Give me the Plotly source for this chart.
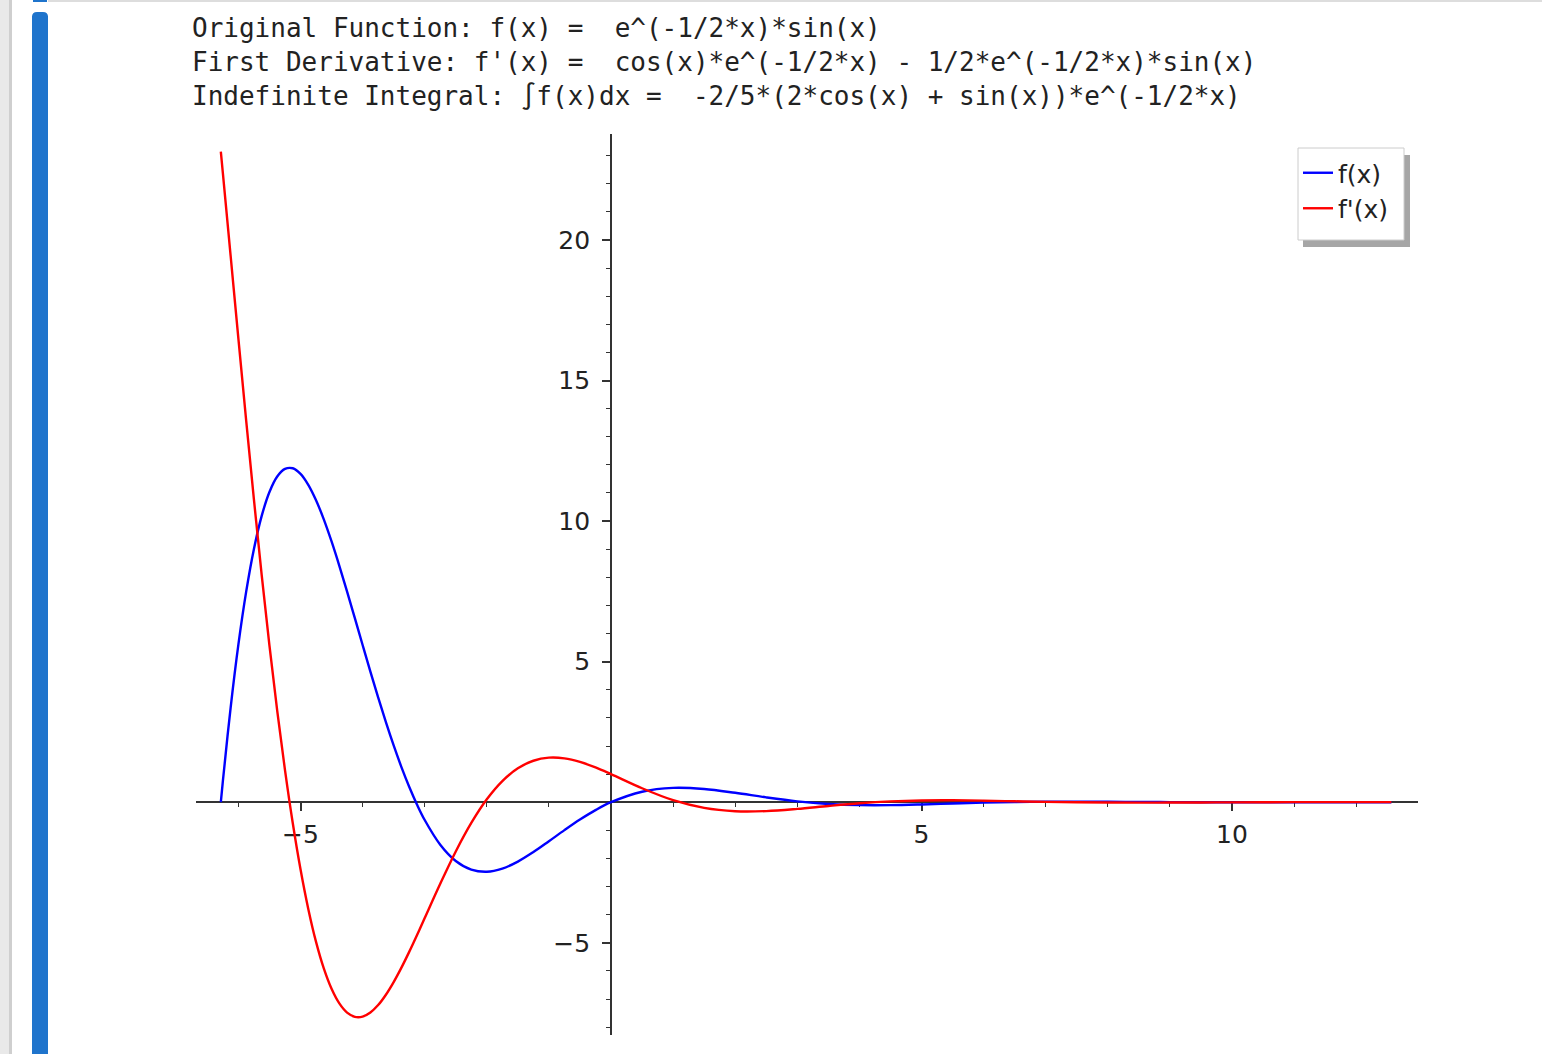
import plotly.graph_objects as go

# ---- data ----
x_vals = [-6.2832, -6.25, -6.125, -6.0, -5.875, -5.75, -5.625, -5.5, -5.375, -5.25,
          -5.125, -5.0, -4.875, -4.75, -4.625, -4.5, -4.375, -4.25, -4.125, -4.0,
          -3.875, -3.75, -3.625, -3.5, -3.375, -3.25, -3.125, -3.0,
          -2.75, -2.5, -2.25, -2.0, -1.75,
          -1.5, -1.25, -1.0, -0.75, -0.5, -0.25, 0.0,
          0.5, 1.0, 1.5, 2.0, 2.5, 3.0, 3.5, 4.0, 4.5, 5.0,
          5.5, 6.0, 6.5, 7.0, 7.5, 8.0, 8.5, 9.0, 9.5, 10.0,
          10.5, 11.0, 11.5, 12.0, 12.5, 12.5664]
f_vals = [0.0, 0.756, 3.368, 5.612, 7.490, 9.010, 10.186, 11.036, 11.586, 11.857,
          11.880, 11.682, 11.293, 10.744, 10.061, 9.275, 8.411, 7.494, 6.547, 5.592,
          4.647, 3.727, 2.847, 2.019, 1.250, 0.550, -0.079, -0.633,
          -1.510, -2.089, -2.397, -2.472, -2.361,
          -2.112, -1.773, -1.387, -0.992, -0.616, -0.280, 0.0,
          0.373, 0.510, 0.471, 0.335, 0.171, 0.031, -0.061, -0.102, -0.103, -0.079,
          -0.045, -0.014, 0.008, 0.020, 0.022, 0.018, 0.011, 0.005, -0.001, -0.004,
          -0.005, -0.004, -0.003, -0.001, 0.000, 0.0]
df_vals = [23.141, 22.37, 19.430, 16.479, 13.574, 10.760, 8.080, 5.568, 3.247, 1.142,
           -0.740, -2.385, -3.794, -4.968, -5.912, -6.637, -7.156, -7.482, -7.633, -7.626,
           -7.480, -7.215, -6.847, -6.398, -5.884, -5.323, -4.730, -4.121,
           -2.901, -1.752, -0.737, 0.105, 0.753,
           1.206, 1.476, 1.585, 1.561, 1.435, 1.238, 1.0,
           0.497, 0.073, -0.202, -0.320, -0.315, -0.237, -0.132, -0.037, 0.029, 0.063,
           0.068, 0.055, 0.034, 0.013, -0.003, -0.012, -0.014, -0.012, -0.008, -0.004,
           0.000, 0.002, 0.003, 0.003, 0.002, 0.002]

x_tickvals = [-5, 5, 10]
x_ticktext = ["\u22125", "5", "10"]
y_tickvals = [-5, 5, 10, 15, 20]
y_ticktext = ["\u22125", "5", "10", "15", "20"]
x_minor = [v for v in range(-6, 14) if v not in x_tickvals and v != 0]
y_minor = [v for v in range(-8, 24) if v not in y_tickvals and v != 0]

header_lines = [
    "Original Function: f(x) =  e^(-1/2*x)*sin(x)",
    "First Derivative: f'(x) =  cos(x)*e^(-1/2*x) - 1/2*e^(-1/2*x)*sin(x)",
    "Indefinite Integral: \u222bf(x)dx =  -2/5*(2*cos(x) + sin(x))*e^(-1/2*x)",
]
series_names = ["f(x)", "f'(x)"]

# ---- layout helpers (pixel -> paper) ----
W, H = 1542, 1054
def px(x):
    return x / W
def py(y):
    return 1 - y / H

X_RANGE = [-6.683, 12.995]
Y_RANGE = [-8.28, 23.77]

fig = go.Figure()
fig.add_trace(go.Scatter(x=x_vals, y=f_vals, mode="lines", name=series_names[0],
                         line=dict(color="#0000ff", width=2.4, shape="spline")))
fig.add_trace(go.Scatter(x=x_vals, y=df_vals, mode="lines", name=series_names[1],
                         line=dict(color="#ff0000", width=2.4, shape="spline")))

axis_common = dict(
    showline=True, linecolor="#333333", linewidth=1.8,
    ticks="outside", ticklen=8, tickwidth=1.6, tickcolor="#333333",
    showgrid=False, zeroline=False, layer="below traces",
    tickfont=dict(family="DejaVu Sans", size=25, color="#222222"),
    tickmode="array",
)

fig.update_layout(
    width=W, height=H,
    margin=dict(l=0, r=0, t=0, b=0),
    paper_bgcolor="white", plot_bgcolor="rgba(0,0,0,0)",
    showlegend=True,
    xaxis=dict(axis_common, domain=[px(196), px(1418)], range=X_RANGE,
               anchor="free", position=py(802.2),
               tickvals=x_tickvals, ticktext=x_ticktext, ticklabelstandoff=2,
               minor=dict(tickmode="array", tickvals=x_minor, ticks="outside",
                          ticklen=4, tickwidth=1.3, tickcolor="#333333", showgrid=False)),
    yaxis=dict(axis_common, domain=[py(1035), py(134)], range=Y_RANGE,
               anchor="free", position=px(611),
               tickvals=y_tickvals, ticktext=y_ticktext, ticklabelstandoff=7,
               minor=dict(tickmode="array", tickvals=y_minor, ticks="outside",
                          ticklen=4, tickwidth=1.3, tickcolor="#333333", showgrid=False)),
    legend=dict(x=px(1298), y=py(150), xanchor="left", yanchor="top",
                bgcolor="rgba(0,0,0,0)", borderwidth=0, itemwidth=30,
                font=dict(family="DejaVu Sans", size=25, color="#222222")),
)

shapes = [
    # notebook page decorations
    dict(type="rect", xref="paper", yref="paper", x0=px(0), x1=px(9), y0=py(1054), y1=py(0),
         fillcolor="#e9e9e9", line=dict(width=0), layer="below"),
    dict(type="rect", xref="paper", yref="paper", x0=px(9), x1=px(12), y0=py(1054), y1=py(0),
         fillcolor="#cfcfcf", line=dict(width=0), layer="below"),
    dict(type="rect", xref="paper", yref="paper", x0=px(48), x1=px(1542), y0=py(2), y1=py(0),
         fillcolor="#dddddd", line=dict(width=0), layer="below"),
    dict(type="rect", xref="paper", yref="paper", x0=px(32), x1=px(48), y0=py(1054), y1=py(16),
         fillcolor="#1f74cc", line=dict(width=0), layer="below"),
    dict(type="path", xref="paper", yref="paper",
         path=f"M {px(32)},{py(17)} Q {px(32)},{py(12)} {px(37)},{py(12)} L {px(43)},{py(12)} "
              f"Q {px(48)},{py(12)} {px(48)},{py(17)} Z",
         fillcolor="#1f74cc", line=dict(width=0), layer="below"),
    dict(type="rect", xref="paper", yref="paper", x0=px(33), x1=px(47), y0=py(2), y1=py(0),
         fillcolor="#1f74cc", line=dict(width=0), layer="below"),
    # legend box with shadow
    dict(type="rect", xref="paper", yref="paper", x0=px(1303), x1=px(1410), y0=py(247), y1=py(155),
         fillcolor="#a6a6a6", line=dict(width=0), layer="above"),
    dict(type="rect", xref="paper", yref="paper", x0=px(1298), x1=px(1404), y0=py(240), y1=py(148),
         fillcolor="white", line=dict(color="#cccccc", width=1), layer="above"),
]
fig.update_layout(shapes=shapes)

for i, line in enumerate(header_lines):
    fig.add_annotation(xref="paper", yref="paper", x=px(190), y=py(28 + 34 * i),
                       xanchor="left", yanchor="middle", showarrow=False,
                       text=line.replace(" ", "\u00a0"),
                       font=dict(family="DejaVu Sans Mono", size=26, color="#222222"))

fig.write_html("out.html", config={"displayModeBar": False},
               post_script="document.body.style.margin='0';document.body.style.overflow='hidden';")
